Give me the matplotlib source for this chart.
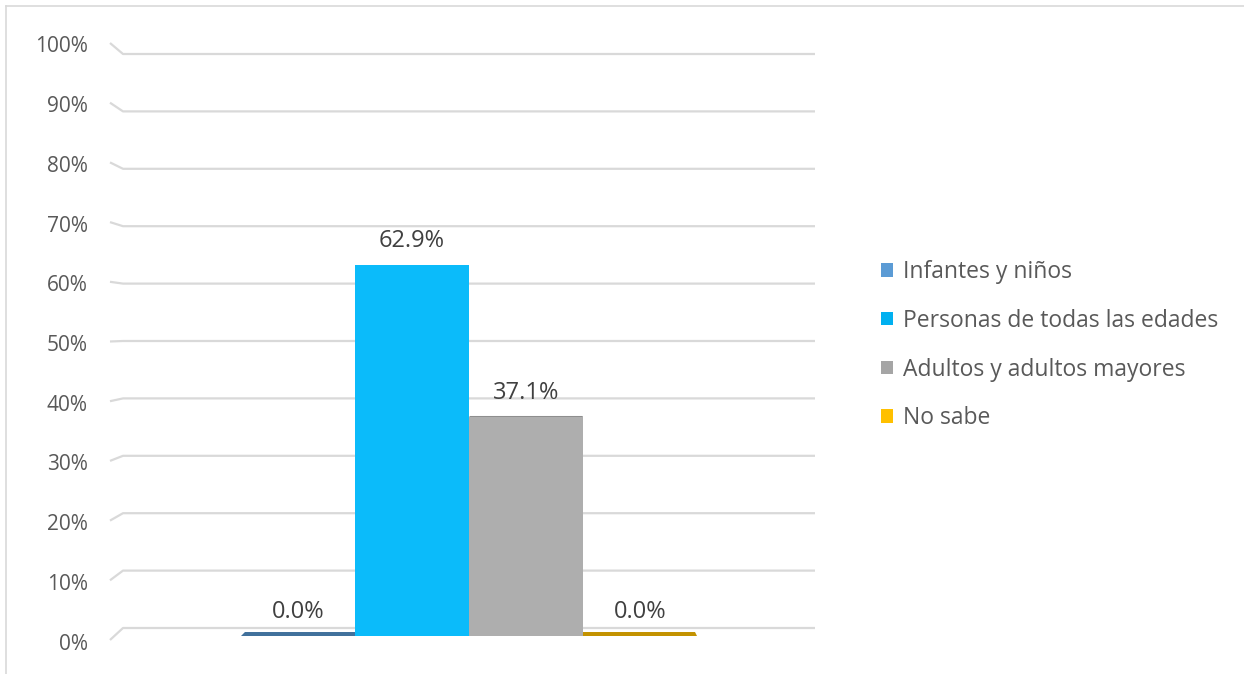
import matplotlib
matplotlib.use("Agg")
import matplotlib.pyplot as plt
from matplotlib.patches import Polygon, Patch
from matplotlib.lines import Line2D

# Data
categories = ["Infantes y niños", "Personas de todas las edades",
              "Adultos y adultos mayores", "No sabe"]
values = [0.0, 0.629, 0.371, 0.0]
tick_values = [i / 10 for i in range(11)]
tick_labels = [f"{int(round(v * 100))}%" for v in tick_values]

# Styling
front_colors = ["#5B9BD5", "#0BBBFA", "#AEAEAE", "#FFC000"]
top_colors = ["#41719C", "#35C8FB", "#8E8E8E", "#C39200"]
legend_colors = ["#5B9BD5", "#00B0F0", "#A5A5A5", "#FFC000"]
text_color = "#595959"
grid_color = "#D9D9D9"
plt.rcParams["font.family"] = ["Open Sans", "DejaVu Sans"]

W, H = 1244, 674
fig = plt.figure(figsize=(W / 100, H / 100), dpi=100)

# Plot area (front plane): value 0 at y=636 px, value 1 at y=46 px
x_left_px, x_right_px = 110, 815
y0_px, y1_px = 636, 46
ax = fig.add_axes([x_left_px / W, (H - y0_px) / H,
                   (x_right_px - x_left_px) / W, (y0_px - y1_px) / H])

bar_w_px = 114
center0_px = 298


def px_to_x(px):
    return (px - center0_px) / bar_w_px


px_per_unit = y0_px - y1_px
ax.set_xlim(px_to_x(x_left_px), px_to_x(x_right_px))
ax.set_ylim(0, 1)
ax.axis("off")


def front_wall(v):
    return -4 / px_per_unit + v * 597 / px_per_unit


def back_wall(v):
    return 8 / px_per_unit + v * 574 / px_per_unit


# Back-wall gridlines with their short perspective edge
for v, lab in zip(tick_values, tick_labels):
    ax.plot([px_to_x(110), px_to_x(123), px_to_x(815)],
            [front_wall(v), back_wall(v), back_wall(v)],
            color=grid_color, lw=1.6, clip_on=False, zorder=1,
            solid_capstyle="butt")
    ax.text(px_to_x(88), front_wall(v) - 4 / px_per_unit, lab,
            ha="right", va="center", fontsize=15, color=text_color,
            clip_on=False)

# Bars
xs = list(range(len(values)))
ax.bar(xs, values, width=1.0, color=front_colors, zorder=3, linewidth=0)

# Visible top faces (bars below eye level)
eye_level = 0.52
vanish_x = px_to_x(545)
depth = 0.013
for x, v, c in zip(xs, values, top_colors):
    dy = depth * (eye_level - v)
    if dy <= 0:
        continue
    xa, xb = x - 0.5, x + 0.5
    xa2 = xa + depth * (vanish_x - xa)
    xb2 = xb + depth * (vanish_x - xb)
    ax.add_patch(Polygon([(xa, v), (xb, v), (xb2, v + dy), (xa2, v + dy)],
                         closed=True, facecolor=c, edgecolor="none",
                         zorder=2.5 if v > 0 else 2.8, clip_on=False))

# Data labels
for x, v in zip(xs, values):
    ax.text(x, v + 24 / px_per_unit, f"{v * 100:.1f}%", ha="center",
            va="center", fontsize=17, color="#404040", zorder=5)

# Legend
handles = [Patch(facecolor=c, edgecolor="none") for c in legend_colors]
leg = fig.legend(handles, categories, loc="upper left",
                 bbox_to_anchor=(881 / W, (H - 260) / H),
                 frameon=False, fontsize=16.5, labelcolor=text_color,
                 handlelength=0.53, handleheight=0.53, handletextpad=0.44,
                 labelspacing=1.08, borderaxespad=0, borderpad=0)

# Chart frame
fig.add_artist(Line2D([6 / W, 6 / W], [0, (H - 6) / H], color=grid_color,
                      lw=1.2, transform=fig.transFigure))
fig.add_artist(Line2D([6 / W, 1], [(H - 6) / H, (H - 6) / H],
                      color=grid_color, lw=1.2, transform=fig.transFigure))

fig.savefig("out.png", dpi=100, facecolor="white")
